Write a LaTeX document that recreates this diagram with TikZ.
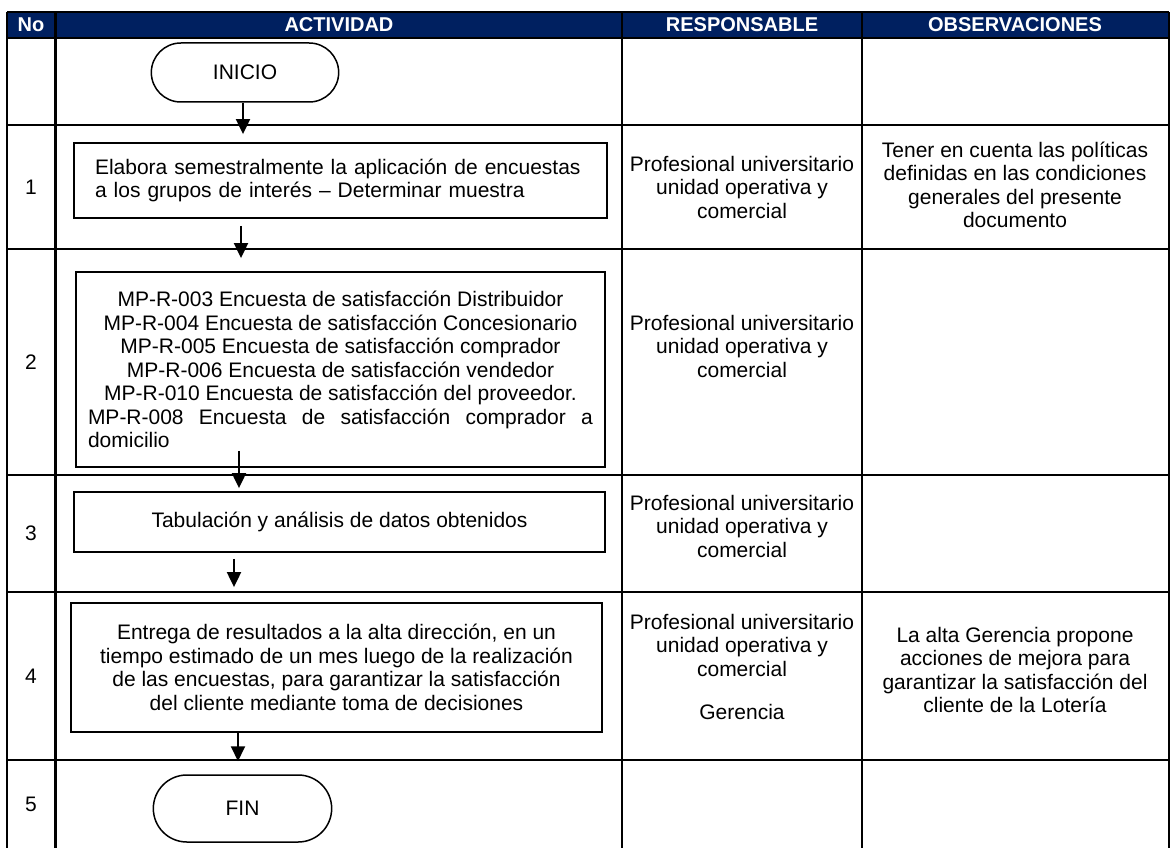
\documentclass[tikz,border=0pt]{standalone}
\usepackage{fontspec}
\setmainfont{Liberation Sans}
\usetikzlibrary{arrows.meta,shapes.misc}
\definecolor{azul}{HTML}{002060}
\newcommand{\letra}{\fontsize{21}{23.5}\selectfont}
\setlength{\parindent}{0pt}
\hyphenpenalty=10000
\exhyphenpenalty=10000

\begin{document}
\begin{tikzpicture}[x=1pt,y=-1pt,
    tabla/.style={line width=2.2pt},
    caja/.style={draw, line width=1.8pt, inner sep=0pt, font=\letra},
    terminal/.style={draw, rounded rectangle, line width=1.5pt, font=\letra},
    flecha/.style={-{Triangle[width=14pt,length=15pt]}, line width=2pt},
    cabecera/.style={text=white, font=\fontsize{20}{22}\selectfont\bfseries},
    celda/.style={align=center, font=\letra}]

    \useasboundingbox (0,0) rectangle (1171,848);

    % Encabezado
    \fill[azul] (7,12) rectangle (1169,38);
    \node[cabecera] (hno) at (31,25) {No};
    \node[cabecera] (hact) at (339,25) {ACTIVIDAD};
    \node[cabecera] (hresp) at (742,25) {RESPONSABLE};
    \node[cabecera] (hobs) at (1015,25) {OBSERVACIONES};

    % Rejilla
    \foreach \y in {12,38,125,249,475,592,760} {
        \draw[tabla] (7,\y) -- (1169,\y);
    }
    \foreach \x in {7,55.5,622,862,1169} {
        \draw[tabla] (\x,12) -- (\x,848);
    }

    % Numeros
    \node[celda] (n1) at (31,187) {1};
    \node[celda] (n2) at (31,362) {2};
    \node[celda] (n3) at (31,533.5) {3};
    \node[celda] (n4) at (31,676) {4};
    \node[celda] (n5) at (31,804) {5};

    % Actividades
    \node[terminal, minimum width=194, minimum height=59] (inicio) at (245,72.5) {INICIO};
    \node[caja, minimum width=533, minimum height=75, text width=491, align=left] (paso1) at (340.5,180.5)
        {Elabora semestralmente la aplicación de encuestas\\a los grupos de interés – Determinar muestra};
    \node[caja, minimum width=529, minimum height=195, text width=505, align=justify] (paso2) at (340.5,369.5)
        {{\centering MP-R-003 Encuesta de satisfacción Distribuidor\\
        MP-R-004 Encuesta de satisfacción Concesionario\\
        MP-R-005 Encuesta de satisfacción comprador\\
        MP-R-006 Encuesta de satisfacción vendedor\\
        MP-R-010 Encuesta de satisfacción del proveedor.\par}
        MP-R-008 Encuesta de satisfacción comprador a domicilio};
    \node[caja, minimum width=531, minimum height=60] (paso3) at (339.5,522) {Tabulación y análisis de datos obtenidos};
    \node[caja, minimum width=531, minimum height=129, align=center] (paso4) at (336.5,667.5)
        {Entrega de resultados a la alta dirección, en un\\
        tiempo estimado de un mes luego de la realización\\
        de las encuestas, para garantizar la satisfacción\\
        del cliente mediante toma de decisiones};
    \node[terminal, minimum width=185, minimum height=67] (fin) at (242.5,808.5) {FIN};

    % Responsables
    \node[celda] (r1) at (742,187) {Profesional universitario\\unidad operativa y\\comercial};
    \node[celda] (r2) at (742,346) {Profesional universitario\\unidad operativa y\\comercial};
    \node[celda] (r3) at (742,526) {Profesional universitario\\unidad operativa y\\comercial};
    \node[celda] (r4) at (742,667) {Profesional universitario\\unidad operativa y\\comercial\\[20pt]Gerencia};

    % Observaciones
    \node[celda] (o1) at (1015,185) {Tener en cuenta las políticas\\definidas en las condiciones\\generales del presente\\documento};
    \node[celda] (o4) at (1015,670) {La alta Gerencia propone\\acciones de mejora para\\garantizar la satisfacción del\\cliente de la Lotería};

    % Flechas
    \draw[flecha, shorten >=8pt] ([xshift=-2pt]inicio.south) -- ([xshift=-2pt]inicio.south |- paso1.north);
    \draw[flecha, shorten <=7pt, shorten >=13pt] ([xshift=-99.5pt]paso1.south) -- ([xshift=-99.5pt]paso1.south |- paso2.north);
    \draw[flecha, shorten <=-17pt, shorten >=3pt] ([xshift=-101.5pt]paso2.south) -- ([xshift=-101.5pt]paso2.south |- paso3.north);
    \draw[flecha, shorten <=6pt, shorten >=15pt] ([xshift=-105.5pt]paso3.south) -- ([xshift=-105.5pt]paso3.south |- paso4.north);
    \draw[flecha, shorten >=13pt] ([xshift=-98.5pt]paso4.south) -- ([xshift=-98.5pt]paso4.south |- fin.north);
\end{tikzpicture}
\end{document}
